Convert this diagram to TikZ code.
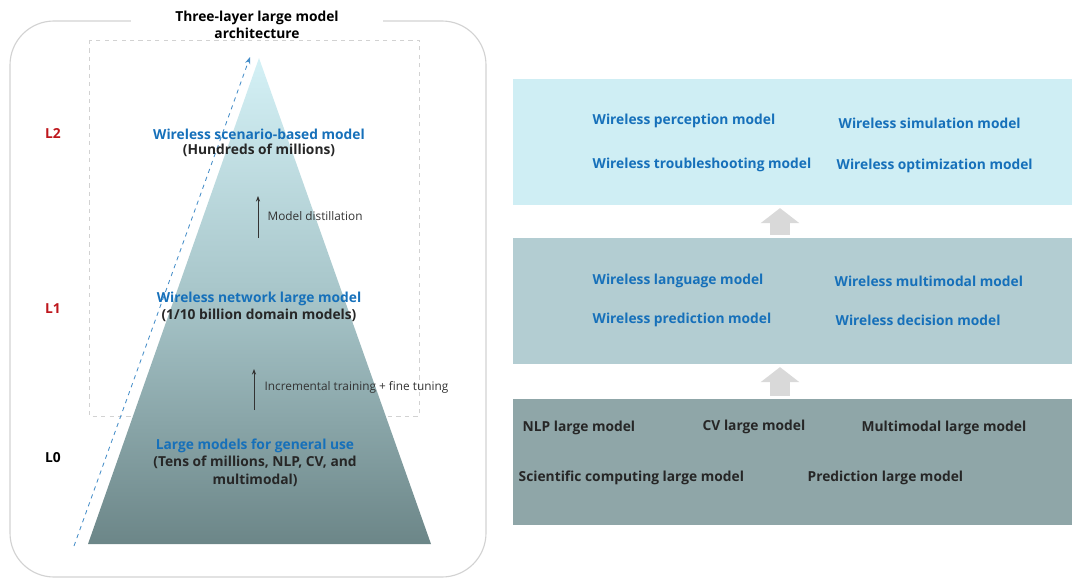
\documentclass[tikz,border=0pt]{standalone}
\usepackage{fontspec}
\setmainfont{Open Sans}
\usepackage{tikz}
\usetikzlibrary{arrows.meta}
\usetikzlibrary{calc}
\usetikzlibrary{positioning}

\definecolor{wlblue}{RGB}{22,112,186}
\definecolor{wlred}{RGB}{190,22,28}
\definecolor{framegray}{RGB}{210,210,210}
\definecolor{pyrtop}{RGB}{212,241,246}
\definecolor{pyrmid}{RGB}{166,196,200}
\definecolor{pyrbot}{RGB}{108,134,136}
\definecolor{layertop}{RGB}{207,238,244}
\definecolor{layermid}{RGB}{179,205,210}
\definecolor{layerbot}{RGB}{143,166,168}
\definecolor{uparrow}{RGB}{217,217,217}

\tikzset{
	bluelabel/.style={font=\fontsize{9.8}{12.5}\selectfont\bfseries, text=wlblue, inner sep=1pt},
	blacklabel/.style={font=\fontsize{9.8}{12.5}\selectfont\bfseries, text=black!85, inner sep=1pt, align=center},
	levellabel/.style={font=\fontsize{9.8}{12}\selectfont\bfseries, inner sep=1pt},
	steplabel/.style={font=\fontsize{8.4}{10}\selectfont, text=black!80, anchor=west, inner sep=1pt},
	layerbox/.style={rectangle, minimum width=13.975cm, minimum height=3.15cm, inner sep=0pt},
	boxlabel/.style={font=\fontsize{9.8}{12}\selectfont\bfseries, anchor=west, inner sep=1pt},
	blockup/.style={draw=uparrow, line width=14.2pt, -{Triangle[length=10.7pt, width=27pt]}, shorten <=2pt, shorten >=2pt}
}

\begin{document}
\begin{tikzpicture}[x=0.025cm, y=-0.025cm]
	\useasboundingbox (0,0) rectangle (1072,578);

	% left panel
	\draw[framegray, line width=0.8pt, rounded corners=1.1cm] (10,21) rectangle (486,577);
	\node[fill=white, minimum width=6.3cm, align=center, inner sep=1pt, font=\fontsize{9.8}{12}\selectfont\bfseries] (title) at (257,25) {Three-layer large model\\architecture};

	\draw[framegray, dashed, line width=0.6pt] (89,40) rectangle (419,416);

	\coordinate (apex) at (259,58);
	\coordinate (baseL) at (88,544);
	\coordinate (baseR) at (431,544);
	\shade[top color=pyrtop, bottom color=pyrbot, middle color=pyrmid] (apex) -- (baseR) -- (baseL) -- cycle;

	\coordinate (growS) at (74,546);
	\coordinate (growE) at (250,57);
	\draw[wlblue!80, dashed, line width=0.6pt, -{Stealth[length=5pt]}] (growS) -- (growE);

	\node[levellabel, text=wlred] (lvtwo) at (53,134) {L2};
	\node[levellabel, text=wlred] (lvone) at (53,309) {L1};
	\node[levellabel, text=black] (lvzero) at (53,458) {L0};

	\node[bluelabel] (scenario) at (259,134) {Wireless scenario-based model};
	\node[blacklabel, below=1pt of scenario] (scenariosize) {(Hundreds of millions)};

	\node[bluelabel] (network) at (259,299) {Wireless network large model};
	\node[blacklabel, below=0pt of network] (networksize) {(1/10 billion domain models)};

	\node[bluelabel] (general) at (255,446) {Large models for general use};
	\node[blacklabel, below=0pt of general] (generalsize) {(Tens of millions, NLP, CV, and\\multimodal)};

	\coordinate (distS) at (258,238);
	\coordinate (distE) at (258,196);
	\draw[black!80, line width=0.6pt, -{Stealth[length=4pt]}] (distS) -- (distE);
	\node[steplabel] (distill) at (266,216) {Model distillation};

	\coordinate (tuneS) at (254,410);
	\coordinate (tuneE) at (254,369);
	\draw[black!80, line width=0.6pt, -{Stealth[length=4pt]}] (tuneS) -- (tuneE);
	\node[steplabel] (tune) at (263,387) {Incremental training + fine tuning};

	% right panel
	\node[layerbox, fill=layertop] (top) at (792.5,142) {};
	\node[layerbox, fill=layermid] (mid) at (792.5,301) {};
	\node[layerbox, fill=layerbot] (bot) at (792.5,462) {};

	\draw[blockup] ($(mid.north)+(-12.5,0)$) -- ($(top.south)+(-12.5,0)$);
	\draw[blockup] ($(bot.north)+(-12.5,0)$) -- ($(mid.south)+(-12.5,0)$);

	\node[boxlabel, text=wlblue] (perception) at (591,121) {Wireless perception model};
	\node[boxlabel, text=wlblue] (simulation) at (837,123) {Wireless simulation model};
	\node[boxlabel, text=wlblue] (trouble) at (591,165) {Wireless troubleshooting model};
	\node[boxlabel, text=wlblue] (optim) at (835,166) {Wireless optimization model};

	\node[boxlabel, text=wlblue] (language) at (591,281) {Wireless language model};
	\node[boxlabel, text=wlblue] (multimodal) at (833,281) {Wireless multimodal model};
	\node[boxlabel, text=wlblue] (predict) at (591,320) {Wireless prediction model};
	\node[boxlabel, text=wlblue] (decision) at (834,320) {Wireless decision model};

	\node[boxlabel, text=black!85] (nlp) at (521,428) {NLP large model};
	\node[boxlabel, text=black!85] (cv) at (701,427) {CV large model};
	\node[boxlabel, text=black!85] (mm) at (860,428) {Multimodal large model};
	\node[boxlabel, text=black!85] (sci) at (517,478) {Scientific computing large model};
	\node[boxlabel, text=black!85] (predlarge) at (806,478) {Prediction large model};
\end{tikzpicture}
\end{document}
